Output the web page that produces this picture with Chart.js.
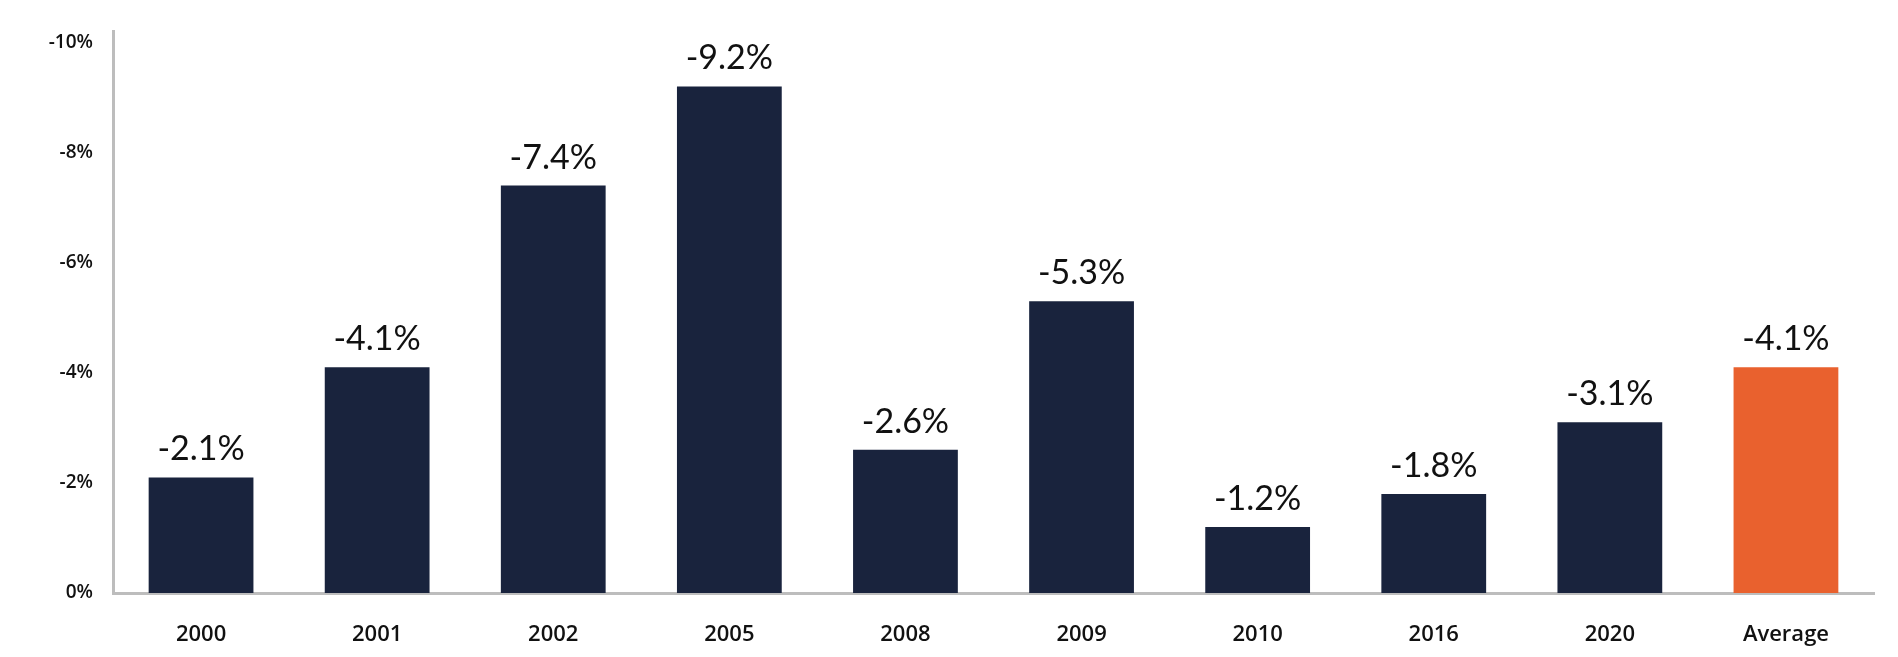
<!DOCTYPE html>
<html>
<head>
<meta charset="utf-8">
<script src="https://cdn.jsdelivr.net/npm/chart.js@4"></script>
<style>
  html, body { margin: 0; padding: 0; background: #fff; }
  #wrap { width: 1898px; height: 657px; }
</style>
</head>
<body>
<div id="wrap"><canvas id="chart" width="1898" height="657"></canvas></div>
<script>
const categories = ['2000', '2001', '2002', '2005', '2008', '2009', '2010', '2016', '2020', 'Average'];
const declines = [-2.1, -4.1, -7.4, -9.2, -2.6, -5.3, -1.2, -1.8, -3.1, -4.1];
const yTicks = [0, -2, -4, -6, -8, -10];

const NAVY = '#19233d';
const ORANGE = '#e9612e';
const barColors = categories.map(c => c === 'Average' ? ORANGE : NAVY);

// draws the value text above each bar
const valueLabels = {
    id: 'valueLabels',
    afterDatasetsDraw(chart) {
        const ctx = chart.ctx;
        const meta = chart.getDatasetMeta(0);
        ctx.save();
        ctx.font = '400 34px Lato, "Open Sans", sans-serif';
        ctx.fillStyle = '#111';
        ctx.textAlign = 'center';
        ctx.textBaseline = 'alphabetic';
        meta.data.forEach((bar, i) => {
            ctx.fillText(declines[i].toFixed(1) + '%', bar.x, bar.y - 17);
        });
        ctx.restore();
    }
};

new Chart(document.getElementById('chart'), {
    type: 'bar',
    data: {
        labels: categories,
        datasets: [{
            data: declines,
            backgroundColor: barColors,
            barPercentage: 0.595,
            categoryPercentage: 1
        }]
    },
    options: {
        responsive: false,
        animation: false,
        layout: { padding: { top: 27, right: 24, left: 0, bottom: 0 } },
        plugins: { legend: { display: false }, tooltip: { enabled: false } },
        scales: {
            x: {
                grid: { display: false, drawTicks: false },
                border: { display: true, color: '#bdbdbd', width: 3 },
                ticks: {
                    color: '#111',
                    padding: 29,
                    font: { family: '"Open Sans", Lato, sans-serif', size: 22, weight: '600' }
                },
                afterFit(scale) { scale.height = 64; }
            },
            y: {
                reverse: true,
                min: -10.2,
                max: 0,
                grid: { display: false, drawTicks: false },
                border: { display: true, color: '#bdbdbd', width: 3 },
                afterBuildTicks(scale) { scale.ticks = yTicks.map(v => ({ value: v })); },
                ticks: {
                    color: '#111',
                    padding: 20,
                    font: { family: '"Open Sans", Lato, sans-serif', size: 19, weight: '600' },
                    callback: v => v + '%'
                },
                afterFit(scale) { scale.width = 113; }
            }
        }
    },
    plugins: [valueLabels]
});
</script>
</body>
</html>
